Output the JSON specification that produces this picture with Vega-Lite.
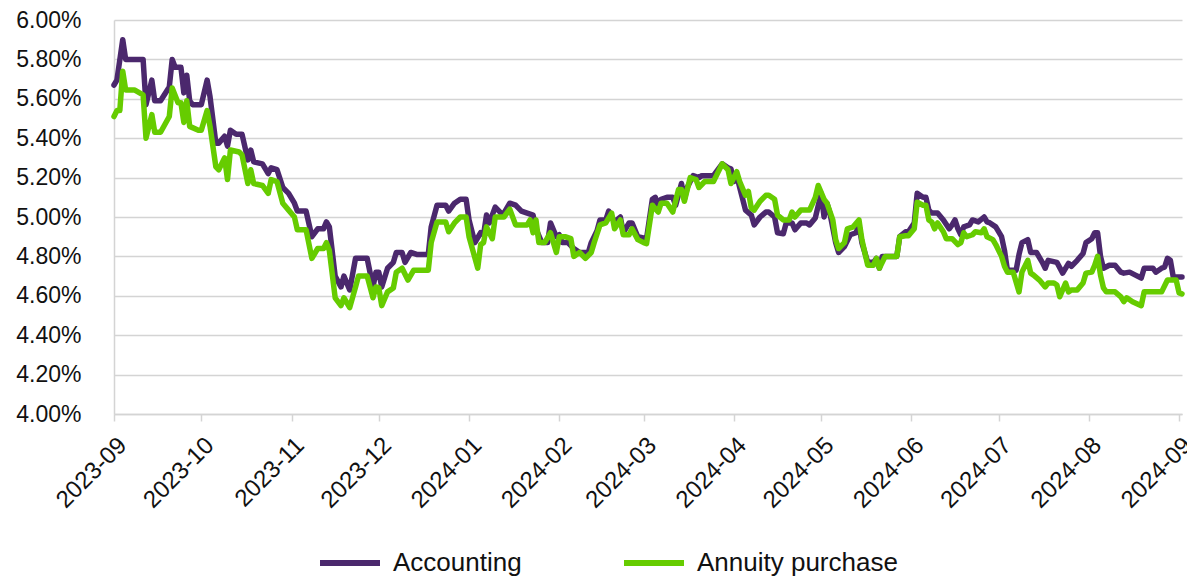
{
  "$schema": "https://vega.github.io/schema/vega-lite/v6.json",
  "width": 1068,
  "height": 394,
  "autosize": "none",
  "padding": {"left": 114, "top": 20, "right": 5, "bottom": 164},
  "background": "white",
  "config": {"view": {"stroke": null}, "font": "Liberation Sans"},
  "data": {"values": [
{"date":"2023-09-01","series":"Accounting","value":5.67},{"date":"2023-09-02","series":"Accounting","value":5.695},{"date":"2023-09-04","series":"Accounting","value":5.90},{"date":"2023-09-05","series":"Accounting","value":5.80},{"date":"2023-09-11","series":"Accounting","value":5.80},{"date":"2023-09-12","series":"Accounting","value":5.57},{"date":"2023-09-14","series":"Accounting","value":5.695},{"date":"2023-09-15","series":"Accounting","value":5.59},{"date":"2023-09-17","series":"Accounting","value":5.59},{"date":"2023-09-20","series":"Accounting","value":5.66},{"date":"2023-09-21","series":"Accounting","value":5.80},{"date":"2023-09-22","series":"Accounting","value":5.76},{"date":"2023-09-24","series":"Accounting","value":5.76},{"date":"2023-09-25","series":"Accounting","value":5.63},{"date":"2023-09-26","series":"Accounting","value":5.72},{"date":"2023-09-27","series":"Accounting","value":5.59},{"date":"2023-09-28","series":"Accounting","value":5.57},{"date":"2023-10-01","series":"Accounting","value":5.57},{"date":"2023-10-03","series":"Accounting","value":5.695},{"date":"2023-10-04","series":"Accounting","value":5.61},{"date":"2023-10-06","series":"Accounting","value":5.375},{"date":"2023-10-07","series":"Accounting","value":5.375},{"date":"2023-10-09","series":"Accounting","value":5.41},{"date":"2023-10-10","series":"Accounting","value":5.36},{"date":"2023-10-11","series":"Accounting","value":5.44},{"date":"2023-10-13","series":"Accounting","value":5.42},{"date":"2023-10-15","series":"Accounting","value":5.42},{"date":"2023-10-17","series":"Accounting","value":5.29},{"date":"2023-10-18","series":"Accounting","value":5.34},{"date":"2023-10-19","series":"Accounting","value":5.28},{"date":"2023-10-22","series":"Accounting","value":5.27},{"date":"2023-10-24","series":"Accounting","value":5.22},{"date":"2023-10-25","series":"Accounting","value":5.25},{"date":"2023-10-27","series":"Accounting","value":5.24},{"date":"2023-10-29","series":"Accounting","value":5.15},{"date":"2023-10-31","series":"Accounting","value":5.12},{"date":"2023-11-02","series":"Accounting","value":5.07},{"date":"2023-11-03","series":"Accounting","value":5.03},{"date":"2023-11-06","series":"Accounting","value":5.03},{"date":"2023-11-08","series":"Accounting","value":4.90},{"date":"2023-11-10","series":"Accounting","value":4.94},{"date":"2023-11-12","series":"Accounting","value":4.94},{"date":"2023-11-13","series":"Accounting","value":4.975},{"date":"2023-11-14","series":"Accounting","value":4.95},{"date":"2023-11-16","series":"Accounting","value":4.70},{"date":"2023-11-18","series":"Accounting","value":4.645},{"date":"2023-11-19","series":"Accounting","value":4.70},{"date":"2023-11-21","series":"Accounting","value":4.63},{"date":"2023-11-23","series":"Accounting","value":4.79},{"date":"2023-11-27","series":"Accounting","value":4.79},{"date":"2023-11-29","series":"Accounting","value":4.645},{"date":"2023-11-30","series":"Accounting","value":4.72},{"date":"2023-12-01","series":"Accounting","value":4.72},{"date":"2023-12-02","series":"Accounting","value":4.645},{"date":"2023-12-04","series":"Accounting","value":4.74},{"date":"2023-12-06","series":"Accounting","value":4.77},{"date":"2023-12-07","series":"Accounting","value":4.82},{"date":"2023-12-09","series":"Accounting","value":4.82},{"date":"2023-12-10","series":"Accounting","value":4.77},{"date":"2023-12-12","series":"Accounting","value":4.82},{"date":"2023-12-14","series":"Accounting","value":4.81},{"date":"2023-12-18","series":"Accounting","value":4.81},{"date":"2023-12-19","series":"Accounting","value":4.95},{"date":"2023-12-21","series":"Accounting","value":5.06},{"date":"2023-12-24","series":"Accounting","value":5.06},{"date":"2023-12-25","series":"Accounting","value":5.03},{"date":"2023-12-27","series":"Accounting","value":5.07},{"date":"2023-12-29","series":"Accounting","value":5.09},{"date":"2023-12-31","series":"Accounting","value":5.09},
{"date":"2024-01-01","series":"Accounting","value":4.985},{"date":"2024-01-03","series":"Accounting","value":4.87},{"date":"2024-01-05","series":"Accounting","value":4.92},{"date":"2024-01-06","series":"Accounting","value":4.91},{"date":"2024-01-07","series":"Accounting","value":5.01},{"date":"2024-01-08","series":"Accounting","value":4.97},{"date":"2024-01-10","series":"Accounting","value":5.05},{"date":"2024-01-12","series":"Accounting","value":5.02},{"date":"2024-01-13","series":"Accounting","value":5.02},{"date":"2024-01-15","series":"Accounting","value":5.07},{"date":"2024-01-17","series":"Accounting","value":5.06},{"date":"2024-01-19","series":"Accounting","value":5.03},{"date":"2024-01-21","series":"Accounting","value":5.02},{"date":"2024-01-23","series":"Accounting","value":5.01},{"date":"2024-01-24","series":"Accounting","value":4.94},{"date":"2024-01-26","series":"Accounting","value":4.87},{"date":"2024-01-28","series":"Accounting","value":4.87},{"date":"2024-01-29","series":"Accounting","value":4.97},{"date":"2024-01-31","series":"Accounting","value":4.90},{"date":"2024-02-01","series":"Accounting","value":4.91},{"date":"2024-02-02","series":"Accounting","value":4.87},{"date":"2024-02-04","series":"Accounting","value":4.87},{"date":"2024-02-06","series":"Accounting","value":4.84},{"date":"2024-02-08","series":"Accounting","value":4.82},{"date":"2024-02-11","series":"Accounting","value":4.82},{"date":"2024-02-12","series":"Accounting","value":4.87},{"date":"2024-02-14","series":"Accounting","value":4.93},{"date":"2024-02-15","series":"Accounting","value":4.985},{"date":"2024-02-17","series":"Accounting","value":4.985},{"date":"2024-02-18","series":"Accounting","value":5.03},{"date":"2024-02-20","series":"Accounting","value":4.975},{"date":"2024-02-22","series":"Accounting","value":5.00},{"date":"2024-02-23","series":"Accounting","value":4.92},{"date":"2024-02-25","series":"Accounting","value":4.97},{"date":"2024-02-26","series":"Accounting","value":4.97},{"date":"2024-02-28","series":"Accounting","value":4.90},{"date":"2024-03-02","series":"Accounting","value":4.89},{"date":"2024-03-04","series":"Accounting","value":5.09},{"date":"2024-03-05","series":"Accounting","value":5.10},{"date":"2024-03-06","series":"Accounting","value":5.06},{"date":"2024-03-07","series":"Accounting","value":5.09},{"date":"2024-03-09","series":"Accounting","value":5.10},{"date":"2024-03-11","series":"Accounting","value":5.10},{"date":"2024-03-12","series":"Accounting","value":5.06},{"date":"2024-03-14","series":"Accounting","value":5.17},{"date":"2024-03-15","series":"Accounting","value":5.09},{"date":"2024-03-16","series":"Accounting","value":5.15},{"date":"2024-03-18","series":"Accounting","value":5.21},{"date":"2024-03-20","series":"Accounting","value":5.20},{"date":"2024-03-21","series":"Accounting","value":5.21},{"date":"2024-03-25","series":"Accounting","value":5.21},{"date":"2024-03-28","series":"Accounting","value":5.27},{"date":"2024-03-30","series":"Accounting","value":5.25},{"date":"2024-03-31","series":"Accounting","value":5.245},{"date":"2024-04-01","series":"Accounting","value":5.18},{"date":"2024-04-02","series":"Accounting","value":5.21},{"date":"2024-04-03","series":"Accounting","value":5.15},{"date":"2024-04-05","series":"Accounting","value":5.035},{"date":"2024-04-07","series":"Accounting","value":5.01},{"date":"2024-04-08","series":"Accounting","value":4.96},{"date":"2024-04-10","series":"Accounting","value":5.00},{"date":"2024-04-12","series":"Accounting","value":5.025},{"date":"2024-04-13","series":"Accounting","value":5.025},{"date":"2024-04-15","series":"Accounting","value":5.00},{"date":"2024-04-16","series":"Accounting","value":4.92},{"date":"2024-04-18","series":"Accounting","value":4.915},{"date":"2024-04-19","series":"Accounting","value":4.97},{"date":"2024-04-21","series":"Accounting","value":4.97},{"date":"2024-04-22","series":"Accounting","value":4.935},{"date":"2024-04-24","series":"Accounting","value":4.97},{"date":"2024-04-26","series":"Accounting","value":4.97},{"date":"2024-04-27","series":"Accounting","value":4.96},{"date":"2024-04-29","series":"Accounting","value":4.995},{"date":"2024-05-01","series":"Accounting","value":5.12},{"date":"2024-05-02","series":"Accounting","value":5.00},{"date":"2024-05-03","series":"Accounting","value":5.07},{"date":"2024-05-04","series":"Accounting","value":5.02},{"date":"2024-05-06","series":"Accounting","value":4.87},{"date":"2024-05-07","series":"Accounting","value":4.82},{"date":"2024-05-09","series":"Accounting","value":4.85},{"date":"2024-05-11","series":"Accounting","value":4.91},{"date":"2024-05-13","series":"Accounting","value":4.92},{"date":"2024-05-14","series":"Accounting","value":4.96},{"date":"2024-05-15","series":"Accounting","value":4.87},{"date":"2024-05-17","series":"Accounting","value":4.77},{"date":"2024-05-19","series":"Accounting","value":4.77},{"date":"2024-05-20","series":"Accounting","value":4.79},{"date":"2024-05-21","series":"Accounting","value":4.74},{"date":"2024-05-22","series":"Accounting","value":4.80},{"date":"2024-05-27","series":"Accounting","value":4.80},{"date":"2024-05-28","series":"Accounting","value":4.90},{"date":"2024-05-30","series":"Accounting","value":4.925},{"date":"2024-05-31","series":"Accounting","value":4.925},{"date":"2024-06-02","series":"Accounting","value":4.97},{"date":"2024-06-03","series":"Accounting","value":5.12},{"date":"2024-06-05","series":"Accounting","value":5.10},{"date":"2024-06-06","series":"Accounting","value":5.10},{"date":"2024-06-07","series":"Accounting","value":5.035},{"date":"2024-06-08","series":"Accounting","value":5.02},{"date":"2024-06-10","series":"Accounting","value":5.02},{"date":"2024-06-12","series":"Accounting","value":4.985},{"date":"2024-06-14","series":"Accounting","value":4.94},{"date":"2024-06-15","series":"Accounting","value":4.96},{"date":"2024-06-16","series":"Accounting","value":4.985},{"date":"2024-06-17","series":"Accounting","value":4.94},{"date":"2024-06-18","series":"Accounting","value":4.91},{"date":"2024-06-19","series":"Accounting","value":4.95},{"date":"2024-06-21","series":"Accounting","value":4.96},{"date":"2024-06-22","series":"Accounting","value":4.985},{"date":"2024-06-24","series":"Accounting","value":4.975},{"date":"2024-06-26","series":"Accounting","value":5.00},{"date":"2024-06-27","series":"Accounting","value":4.975},{"date":"2024-06-28","series":"Accounting","value":4.97},{"date":"2024-06-30","series":"Accounting","value":4.95},{"date":"2024-07-02","series":"Accounting","value":4.90},{"date":"2024-07-03","series":"Accounting","value":4.83},{"date":"2024-07-04","series":"Accounting","value":4.73},{"date":"2024-07-07","series":"Accounting","value":4.73},{"date":"2024-07-08","series":"Accounting","value":4.81},{"date":"2024-07-09","series":"Accounting","value":4.87},{"date":"2024-07-11","series":"Accounting","value":4.885},{"date":"2024-07-12","series":"Accounting","value":4.82},{"date":"2024-07-14","series":"Accounting","value":4.82},{"date":"2024-07-16","series":"Accounting","value":4.77},{"date":"2024-07-17","series":"Accounting","value":4.74},{"date":"2024-07-18","series":"Accounting","value":4.78},{"date":"2024-07-21","series":"Accounting","value":4.77},{"date":"2024-07-23","series":"Accounting","value":4.715},{"date":"2024-07-25","series":"Accounting","value":4.765},{"date":"2024-07-26","series":"Accounting","value":4.75},{"date":"2024-07-28","series":"Accounting","value":4.78},{"date":"2024-07-30","series":"Accounting","value":4.815},{"date":"2024-07-31","series":"Accounting","value":4.87},{"date":"2024-08-02","series":"Accounting","value":4.89},{"date":"2024-08-03","series":"Accounting","value":4.92},{"date":"2024-08-04","series":"Accounting","value":4.92},{"date":"2024-08-05","series":"Accounting","value":4.80},{"date":"2024-08-06","series":"Accounting","value":4.74},{"date":"2024-08-08","series":"Accounting","value":4.755},{"date":"2024-08-10","series":"Accounting","value":4.755},{"date":"2024-08-12","series":"Accounting","value":4.72},{"date":"2024-08-13","series":"Accounting","value":4.715},{"date":"2024-08-15","series":"Accounting","value":4.72},{"date":"2024-08-17","series":"Accounting","value":4.705},{"date":"2024-08-19","series":"Accounting","value":4.69},{"date":"2024-08-20","series":"Accounting","value":4.74},{"date":"2024-08-23","series":"Accounting","value":4.74},{"date":"2024-08-24","series":"Accounting","value":4.72},{"date":"2024-08-26","series":"Accounting","value":4.74},{"date":"2024-08-27","series":"Accounting","value":4.745},{"date":"2024-08-28","series":"Accounting","value":4.79},{"date":"2024-08-29","series":"Accounting","value":4.78},{"date":"2024-08-30","series":"Accounting","value":4.695},{"date":"2024-09-02","series":"Accounting","value":4.695},
{"date":"2023-09-01","series":"Annuity purchase","value":5.51},{"date":"2023-09-02","series":"Annuity purchase","value":5.54},{"date":"2023-09-03","series":"Annuity purchase","value":5.54},{"date":"2023-09-04","series":"Annuity purchase","value":5.74},{"date":"2023-09-05","series":"Annuity purchase","value":5.645},{"date":"2023-09-08","series":"Annuity purchase","value":5.645},{"date":"2023-09-11","series":"Annuity purchase","value":5.62},{"date":"2023-09-12","series":"Annuity purchase","value":5.40},{"date":"2023-09-14","series":"Annuity purchase","value":5.52},{"date":"2023-09-15","series":"Annuity purchase","value":5.43},{"date":"2023-09-17","series":"Annuity purchase","value":5.43},{"date":"2023-09-20","series":"Annuity purchase","value":5.51},{"date":"2023-09-21","series":"Annuity purchase","value":5.655},{"date":"2023-09-23","series":"Annuity purchase","value":5.58},{"date":"2023-09-24","series":"Annuity purchase","value":5.58},{"date":"2023-09-25","series":"Annuity purchase","value":5.48},{"date":"2023-09-26","series":"Annuity purchase","value":5.59},{"date":"2023-09-27","series":"Annuity purchase","value":5.46},{"date":"2023-09-30","series":"Annuity purchase","value":5.44},{"date":"2023-10-01","series":"Annuity purchase","value":5.44},{"date":"2023-10-03","series":"Annuity purchase","value":5.54},{"date":"2023-10-04","series":"Annuity purchase","value":5.46},{"date":"2023-10-06","series":"Annuity purchase","value":5.255},{"date":"2023-10-07","series":"Annuity purchase","value":5.24},{"date":"2023-10-09","series":"Annuity purchase","value":5.30},{"date":"2023-10-10","series":"Annuity purchase","value":5.19},{"date":"2023-10-11","series":"Annuity purchase","value":5.34},{"date":"2023-10-14","series":"Annuity purchase","value":5.33},{"date":"2023-10-15","series":"Annuity purchase","value":5.315},{"date":"2023-10-17","series":"Annuity purchase","value":5.17},{"date":"2023-10-18","series":"Annuity purchase","value":5.24},{"date":"2023-10-19","series":"Annuity purchase","value":5.17},{"date":"2023-10-22","series":"Annuity purchase","value":5.16},{"date":"2023-10-24","series":"Annuity purchase","value":5.12},{"date":"2023-10-25","series":"Annuity purchase","value":5.19},{"date":"2023-10-27","series":"Annuity purchase","value":5.18},{"date":"2023-10-29","series":"Annuity purchase","value":5.07},{"date":"2023-10-31","series":"Annuity purchase","value":5.035},{"date":"2023-11-02","series":"Annuity purchase","value":5.00},{"date":"2023-11-03","series":"Annuity purchase","value":4.935},{"date":"2023-11-06","series":"Annuity purchase","value":4.935},{"date":"2023-11-08","series":"Annuity purchase","value":4.79},{"date":"2023-11-10","series":"Annuity purchase","value":4.84},{"date":"2023-11-12","series":"Annuity purchase","value":4.84},{"date":"2023-11-13","series":"Annuity purchase","value":4.87},{"date":"2023-11-14","series":"Annuity purchase","value":4.83},{"date":"2023-11-16","series":"Annuity purchase","value":4.59},{"date":"2023-11-18","series":"Annuity purchase","value":4.55},{"date":"2023-11-19","series":"Annuity purchase","value":4.59},{"date":"2023-11-21","series":"Annuity purchase","value":4.54},{"date":"2023-11-23","series":"Annuity purchase","value":4.645},{"date":"2023-11-24","series":"Annuity purchase","value":4.70},{"date":"2023-11-27","series":"Annuity purchase","value":4.70},{"date":"2023-11-29","series":"Annuity purchase","value":4.59},{"date":"2023-11-30","series":"Annuity purchase","value":4.645},{"date":"2023-12-01","series":"Annuity purchase","value":4.64},{"date":"2023-12-02","series":"Annuity purchase","value":4.55},{"date":"2023-12-04","series":"Annuity purchase","value":4.62},{"date":"2023-12-06","series":"Annuity purchase","value":4.64},{"date":"2023-12-07","series":"Annuity purchase","value":4.72},{"date":"2023-12-09","series":"Annuity purchase","value":4.74},{"date":"2023-12-11","series":"Annuity purchase","value":4.68},{"date":"2023-12-13","series":"Annuity purchase","value":4.73},{"date":"2023-12-18","series":"Annuity purchase","value":4.73},{"date":"2023-12-19","series":"Annuity purchase","value":4.87},{"date":"2023-12-21","series":"Annuity purchase","value":4.975},{"date":"2023-12-24","series":"Annuity purchase","value":4.975},{"date":"2023-12-25","series":"Annuity purchase","value":4.925},{"date":"2023-12-27","series":"Annuity purchase","value":4.97},{"date":"2023-12-29","series":"Annuity purchase","value":5.00},{"date":"2023-12-31","series":"Annuity purchase","value":5.00},
{"date":"2024-01-01","series":"Annuity purchase","value":4.90},{"date":"2024-01-04","series":"Annuity purchase","value":4.74},{"date":"2024-01-05","series":"Annuity purchase","value":4.86},{"date":"2024-01-06","series":"Annuity purchase","value":4.87},{"date":"2024-01-07","series":"Annuity purchase","value":4.95},{"date":"2024-01-09","series":"Annuity purchase","value":4.89},{"date":"2024-01-10","series":"Annuity purchase","value":5.00},{"date":"2024-01-13","series":"Annuity purchase","value":5.00},{"date":"2024-01-15","series":"Annuity purchase","value":5.04},{"date":"2024-01-17","series":"Annuity purchase","value":4.96},{"date":"2024-01-21","series":"Annuity purchase","value":4.96},{"date":"2024-01-22","series":"Annuity purchase","value":4.985},{"date":"2024-01-23","series":"Annuity purchase","value":4.92},{"date":"2024-01-24","series":"Annuity purchase","value":4.985},{"date":"2024-01-25","series":"Annuity purchase","value":4.87},{"date":"2024-01-27","series":"Annuity purchase","value":4.87},{"date":"2024-01-29","series":"Annuity purchase","value":4.92},{"date":"2024-01-31","series":"Annuity purchase","value":4.82},{"date":"2024-02-01","series":"Annuity purchase","value":4.90},{"date":"2024-02-03","series":"Annuity purchase","value":4.90},{"date":"2024-02-05","series":"Annuity purchase","value":4.89},{"date":"2024-02-06","series":"Annuity purchase","value":4.80},{"date":"2024-02-08","series":"Annuity purchase","value":4.82},{"date":"2024-02-10","series":"Annuity purchase","value":4.79},{"date":"2024-02-12","series":"Annuity purchase","value":4.82},{"date":"2024-02-13","series":"Annuity purchase","value":4.87},{"date":"2024-02-15","series":"Annuity purchase","value":4.96},{"date":"2024-02-17","series":"Annuity purchase","value":4.97},{"date":"2024-02-19","series":"Annuity purchase","value":5.02},{"date":"2024-02-20","series":"Annuity purchase","value":4.94},{"date":"2024-02-22","series":"Annuity purchase","value":4.985},{"date":"2024-02-23","series":"Annuity purchase","value":4.91},{"date":"2024-02-25","series":"Annuity purchase","value":4.91},{"date":"2024-02-26","series":"Annuity purchase","value":4.94},{"date":"2024-02-28","series":"Annuity purchase","value":4.885},{"date":"2024-03-01","series":"Annuity purchase","value":4.87},{"date":"2024-03-02","series":"Annuity purchase","value":4.865},{"date":"2024-03-04","series":"Annuity purchase","value":5.06},{"date":"2024-03-06","series":"Annuity purchase","value":5.025},{"date":"2024-03-07","series":"Annuity purchase","value":5.07},{"date":"2024-03-09","series":"Annuity purchase","value":5.07},{"date":"2024-03-11","series":"Annuity purchase","value":5.025},{"date":"2024-03-13","series":"Annuity purchase","value":5.14},{"date":"2024-03-14","series":"Annuity purchase","value":5.14},{"date":"2024-03-15","series":"Annuity purchase","value":5.08},{"date":"2024-03-17","series":"Annuity purchase","value":5.20},{"date":"2024-03-19","series":"Annuity purchase","value":5.19},{"date":"2024-03-20","series":"Annuity purchase","value":5.15},{"date":"2024-03-22","series":"Annuity purchase","value":5.18},{"date":"2024-03-25","series":"Annuity purchase","value":5.18},{"date":"2024-03-26","series":"Annuity purchase","value":5.21},{"date":"2024-03-28","series":"Annuity purchase","value":5.27},{"date":"2024-03-30","series":"Annuity purchase","value":5.24},{"date":"2024-03-31","series":"Annuity purchase","value":5.17},{"date":"2024-04-02","series":"Annuity purchase","value":5.23},{"date":"2024-04-03","series":"Annuity purchase","value":5.18},{"date":"2024-04-05","series":"Annuity purchase","value":5.11},{"date":"2024-04-06","series":"Annuity purchase","value":5.13},{"date":"2024-04-07","series":"Annuity purchase","value":5.045},{"date":"2024-04-08","series":"Annuity purchase","value":5.035},{"date":"2024-04-10","series":"Annuity purchase","value":5.08},{"date":"2024-04-12","series":"Annuity purchase","value":5.11},{"date":"2024-04-13","series":"Annuity purchase","value":5.11},{"date":"2024-04-15","series":"Annuity purchase","value":5.09},{"date":"2024-04-16","series":"Annuity purchase","value":5.01},{"date":"2024-04-18","series":"Annuity purchase","value":4.985},{"date":"2024-04-20","series":"Annuity purchase","value":4.985},{"date":"2024-04-21","series":"Annuity purchase","value":5.025},{"date":"2024-04-22","series":"Annuity purchase","value":5.00},{"date":"2024-04-24","series":"Annuity purchase","value":5.035},{"date":"2024-04-27","series":"Annuity purchase","value":5.035},{"date":"2024-04-29","series":"Annuity purchase","value":5.10},{"date":"2024-04-30","series":"Annuity purchase","value":5.16},{"date":"2024-05-02","series":"Annuity purchase","value":5.09},{"date":"2024-05-03","series":"Annuity purchase","value":5.07},{"date":"2024-05-05","series":"Annuity purchase","value":4.985},{"date":"2024-05-06","series":"Annuity purchase","value":4.885},{"date":"2024-05-07","series":"Annuity purchase","value":4.84},{"date":"2024-05-09","series":"Annuity purchase","value":4.87},{"date":"2024-05-10","series":"Annuity purchase","value":4.94},{"date":"2024-05-12","series":"Annuity purchase","value":4.95},{"date":"2024-05-14","series":"Annuity purchase","value":4.985},{"date":"2024-05-15","series":"Annuity purchase","value":4.885},{"date":"2024-05-17","series":"Annuity purchase","value":4.755},{"date":"2024-05-19","series":"Annuity purchase","value":4.755},{"date":"2024-05-20","series":"Annuity purchase","value":4.79},{"date":"2024-05-21","series":"Annuity purchase","value":4.74},{"date":"2024-05-23","series":"Annuity purchase","value":4.80},{"date":"2024-05-27","series":"Annuity purchase","value":4.80},{"date":"2024-05-28","series":"Annuity purchase","value":4.90},{"date":"2024-05-30","series":"Annuity purchase","value":4.905},{"date":"2024-05-31","series":"Annuity purchase","value":4.905},{"date":"2024-06-02","series":"Annuity purchase","value":4.94},{"date":"2024-06-03","series":"Annuity purchase","value":5.075},{"date":"2024-06-05","series":"Annuity purchase","value":5.06},{"date":"2024-06-06","series":"Annuity purchase","value":5.06},{"date":"2024-06-07","series":"Annuity purchase","value":4.985},{"date":"2024-06-08","series":"Annuity purchase","value":4.975},{"date":"2024-06-09","series":"Annuity purchase","value":4.94},{"date":"2024-06-10","series":"Annuity purchase","value":4.97},{"date":"2024-06-12","series":"Annuity purchase","value":4.925},{"date":"2024-06-13","series":"Annuity purchase","value":4.89},{"date":"2024-06-15","series":"Annuity purchase","value":4.89},{"date":"2024-06-17","series":"Annuity purchase","value":4.86},{"date":"2024-06-18","series":"Annuity purchase","value":4.87},{"date":"2024-06-19","series":"Annuity purchase","value":4.92},{"date":"2024-06-20","series":"Annuity purchase","value":4.90},{"date":"2024-06-22","series":"Annuity purchase","value":4.91},{"date":"2024-06-23","series":"Annuity purchase","value":4.925},{"date":"2024-06-25","series":"Annuity purchase","value":4.92},{"date":"2024-06-26","series":"Annuity purchase","value":4.94},{"date":"2024-06-27","series":"Annuity purchase","value":4.90},{"date":"2024-06-29","series":"Annuity purchase","value":4.885},{"date":"2024-06-30","series":"Annuity purchase","value":4.86},{"date":"2024-07-02","series":"Annuity purchase","value":4.80},{"date":"2024-07-03","series":"Annuity purchase","value":4.75},{"date":"2024-07-04","series":"Annuity purchase","value":4.72},{"date":"2024-07-06","series":"Annuity purchase","value":4.72},{"date":"2024-07-08","series":"Annuity purchase","value":4.62},{"date":"2024-07-09","series":"Annuity purchase","value":4.72},{"date":"2024-07-11","series":"Annuity purchase","value":4.78},{"date":"2024-07-12","series":"Annuity purchase","value":4.715},{"date":"2024-07-13","series":"Annuity purchase","value":4.705},{"date":"2024-07-15","series":"Annuity purchase","value":4.68},{"date":"2024-07-17","series":"Annuity purchase","value":4.645},{"date":"2024-07-18","series":"Annuity purchase","value":4.665},{"date":"2024-07-20","series":"Annuity purchase","value":4.665},{"date":"2024-07-21","series":"Annuity purchase","value":4.655},{"date":"2024-07-22","series":"Annuity purchase","value":4.595},{"date":"2024-07-24","series":"Annuity purchase","value":4.665},{"date":"2024-07-25","series":"Annuity purchase","value":4.62},{"date":"2024-07-26","series":"Annuity purchase","value":4.63},{"date":"2024-07-28","series":"Annuity purchase","value":4.63},{"date":"2024-07-30","series":"Annuity purchase","value":4.665},{"date":"2024-07-31","series":"Annuity purchase","value":4.715},{"date":"2024-08-02","series":"Annuity purchase","value":4.72},{"date":"2024-08-03","series":"Annuity purchase","value":4.755},{"date":"2024-08-04","series":"Annuity purchase","value":4.80},{"date":"2024-08-05","series":"Annuity purchase","value":4.705},{"date":"2024-08-06","series":"Annuity purchase","value":4.64},{"date":"2024-08-07","series":"Annuity purchase","value":4.62},{"date":"2024-08-10","series":"Annuity purchase","value":4.62},{"date":"2024-08-12","series":"Annuity purchase","value":4.595},{"date":"2024-08-13","series":"Annuity purchase","value":4.57},{"date":"2024-08-14","series":"Annuity purchase","value":4.59},{"date":"2024-08-16","series":"Annuity purchase","value":4.57},{"date":"2024-08-19","series":"Annuity purchase","value":4.55},{"date":"2024-08-20","series":"Annuity purchase","value":4.62},{"date":"2024-08-26","series":"Annuity purchase","value":4.62},{"date":"2024-08-28","series":"Annuity purchase","value":4.68},{"date":"2024-08-31","series":"Annuity purchase","value":4.68},{"date":"2024-09-01","series":"Annuity purchase","value":4.615},{"date":"2024-09-02","series":"Annuity purchase","value":4.61}
  ]},
  "mark": {"type": "line", "strokeWidth": 5.5, "strokeJoin": "round", "strokeCap": "round"},
  "encoding": {
    "x": {
      "field": "date", "type": "temporal",
      "scale": {"type": "utc", "domain": ["2023-09-01", "2024-09-02"]},
      "axis": {
        "title": null,
        "labelExpr": "utcFormat(datum.value, '%Y-%m')",
        "values": ["2023-09-01","2023-10-01","2023-11-01","2023-12-01","2024-01-01","2024-02-01","2024-03-01","2024-04-01","2024-05-01","2024-06-01","2024-07-01","2024-08-01","2024-09-01"],
        "grid": false,
        "domainColor": "#d4d4d4", "domainWidth": 1.5,
        "tickColor": "#d4d4d4", "tickWidth": 1.5, "tickSize": 7,
        "labelAngle": -45, "labelAlign": "right", "labelBaseline": "top",
        "labelFontSize": 24, "labelColor": "#111111", "labelPadding": 12,
        "labelOverlap": false, "labelFlush": false
      }
    },
    "y": {
      "field": "value", "type": "quantitative",
      "scale": {"domain": [4, 6], "nice": false, "zero": false},
      "axis": {
        "title": null,
        "values": [4, 4.2, 4.4, 4.6, 4.8, 5, 5.2, 5.4, 5.6, 5.8, 6],
        "labelExpr": "format(datum.value, '.2f') + '%'",
        "ticks": false,
        "gridColor": "#d4d4d4", "gridWidth": 1.5,
        "domainColor": "#d4d4d4", "domainWidth": 1.5,
        "labelFontSize": 23, "labelColor": "#111111", "labelPadding": 33
      }
    },
    "color": {
      "field": "series", "type": "nominal",
      "scale": {"domain": ["Accounting", "Annuity purchase"], "range": ["#4B286D", "#66CC00"]},
      "legend": {
        "title": null,
        "orient": "none",
        "direction": "horizontal",
        "legendX": 203,
        "legendY": 510,
        "symbolType": "stroke",
        "symbolSize": 3600,
        "symbolStrokeWidth": 6,
        "labelFontSize": 26,
        "labelColor": "#111111",
        "labelOffset": 10,
        "columnPadding": 90,
        "labelLimit": 400
      }
    }
  }
}
